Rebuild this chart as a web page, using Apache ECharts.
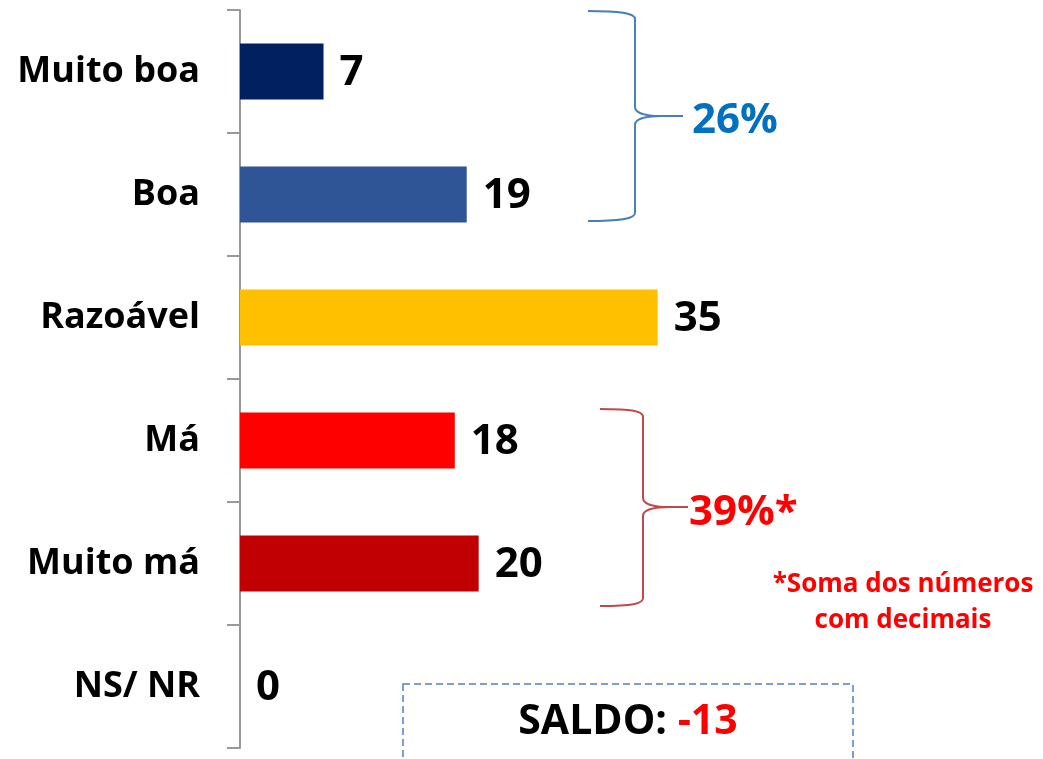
<!DOCTYPE html>
<html>
<head>
<meta charset="utf-8">
<script src="https://cdn.jsdelivr.net/npm/echarts@6/dist/echarts.min.js"></script>
<style>
  html, body { margin: 0; padding: 0; background: #fff; }
  #chart { width: 1043px; height: 759px; }
</style>
</head>
<body>
<div id="chart"></div>
<script>
// dados
var categories = ["Muito boa", "Boa", "Razoável", "Má", "Muito má", "NS/ NR"]
var values = [7, 19, 35, 18, 20, 0]
var positiveTotal = "26%"
var negativeTotal = "39%*"
var saldo = "-13"
var footnote = ["*Soma dos números", "com decimais"]

var barColors = ["#002060", "#2F5597", "#FFC000", "#FF0000", "#C00000", "#7F7F7F"]
var FONT = "'Open Sans', 'Liberation Sans', sans-serif"

// chaveta feita com curvas
function brace(x0, xv, xtip, yTop, yMid, yBot, color) {
  var ls = { stroke: color, lineWidth: 2, fill: null }
  return [
    { type: "bezierCurve", shape: { x1: x0, y1: yTop, cpx1: x0 + 32, cpy1: yTop, cpx2: xv, cpy2: yTop + 2, x2: xv, y2: yTop + 8 }, style: ls },
    { type: "line", shape: { x1: xv, y1: yTop + 8, x2: xv, y2: yMid - 9 }, style: ls },
    { type: "bezierCurve", shape: { x1: xv, y1: yMid - 9, cpx1: xv, cpy1: yMid - 2, cpx2: xv + 14, cpy2: yMid, x2: xv + 26, y2: yMid }, style: ls },
    { type: "line", shape: { x1: xv + 24, y1: yMid, x2: xtip, y2: yMid }, style: ls },
    { type: "bezierCurve", shape: { x1: xv + 26, y1: yMid, cpx1: xv + 14, cpy1: yMid, cpx2: xv, cpy2: yMid + 2, x2: xv, y2: yMid + 9 }, style: ls },
    { type: "line", shape: { x1: xv, y1: yMid + 9, x2: xv, y2: yBot - 8 }, style: ls },
    { type: "bezierCurve", shape: { x1: xv, y1: yBot - 8, cpx1: xv, cpy1: yBot - 2, cpx2: x0 + 32, cpy2: yBot, x2: x0, y2: yBot }, style: ls }
  ]
}

var chart = echarts.init(document.getElementById("chart"))

var graphics = []
  .concat(brace(588, 635, 683, 11, 116, 221, "#4A7EBB"))
  .concat(brace(600, 643, 688, 409, 507, 606, "#BE4B48"))
  .concat([
    { type: "text", x: 692, y: 121, style: { text: positiveTotal, font: "bold 42px " + FONT, fill: "#0070C0", textVerticalAlign: "middle" } },
    { type: "text", x: 689, y: 513, style: { text: negativeTotal, font: "bold 42px " + FONT, fill: "#FF0000", textVerticalAlign: "middle" } },
    { type: "text", x: 903, y: 585, style: { text: footnote[0], font: "bold 26px " + FONT, fill: "#FF0000", textAlign: "center", textVerticalAlign: "middle" } },
    { type: "text", x: 903, y: 621, style: { text: footnote[1], font: "bold 26px " + FONT, fill: "#FF0000", textAlign: "center", textVerticalAlign: "middle" } },
    { type: "rect", shape: { x: 403, y: 684, width: 450, height: 120 }, style: { fill: null, stroke: "#4F81BD", lineWidth: 1.5, lineDash: [7, 4] } },
    {
      type: "text", x: 628, y: 722,
      style: {
        text: "{a|SALDO: }{b|" + saldo + "}",
        textAlign: "center", textVerticalAlign: "middle",
        rich: {
          a: { font: "bold 41px " + FONT, fill: "#000" },
          b: { font: "bold 41px " + FONT, fill: "#FF0000" }
        }
      }
    }
  ])

var option = {
  backgroundColor: "#fff",
  animation: false,
  grid: { left: 240, right: 87, top: 10, bottom: 11, containLabel: false },
  xAxis: {
    type: "value",
    min: 0,
    max: 60,
    show: false
  },
  yAxis: {
    type: "category",
    inverse: true,
    data: categories,
    axisLine: { show: true, lineStyle: { color: "#999999", width: 2 } },
    axisTick: { show: true, length: 13, lineStyle: { color: "#999999", width: 2 } },
    axisLabel: { color: "#000", fontFamily: FONT, fontWeight: "bold", fontSize: 36, margin: 40 },
    splitLine: { show: false }
  },
  series: [
    {
      type: "bar",
      barWidth: 56,
      data: values.map(function (v, i) {
        return { value: v, itemStyle: { color: barColors[i] } }
      }),
      label: {
        show: true,
        position: "right",
        distance: 16,
        offset: [0, 2],
        color: "#000",
        fontFamily: FONT,
        fontWeight: "bold",
        fontSize: 42
      }
    }
  ],
  graphic: { elements: graphics }
}

chart.setOption(option)
</script>
</body>
</html>
